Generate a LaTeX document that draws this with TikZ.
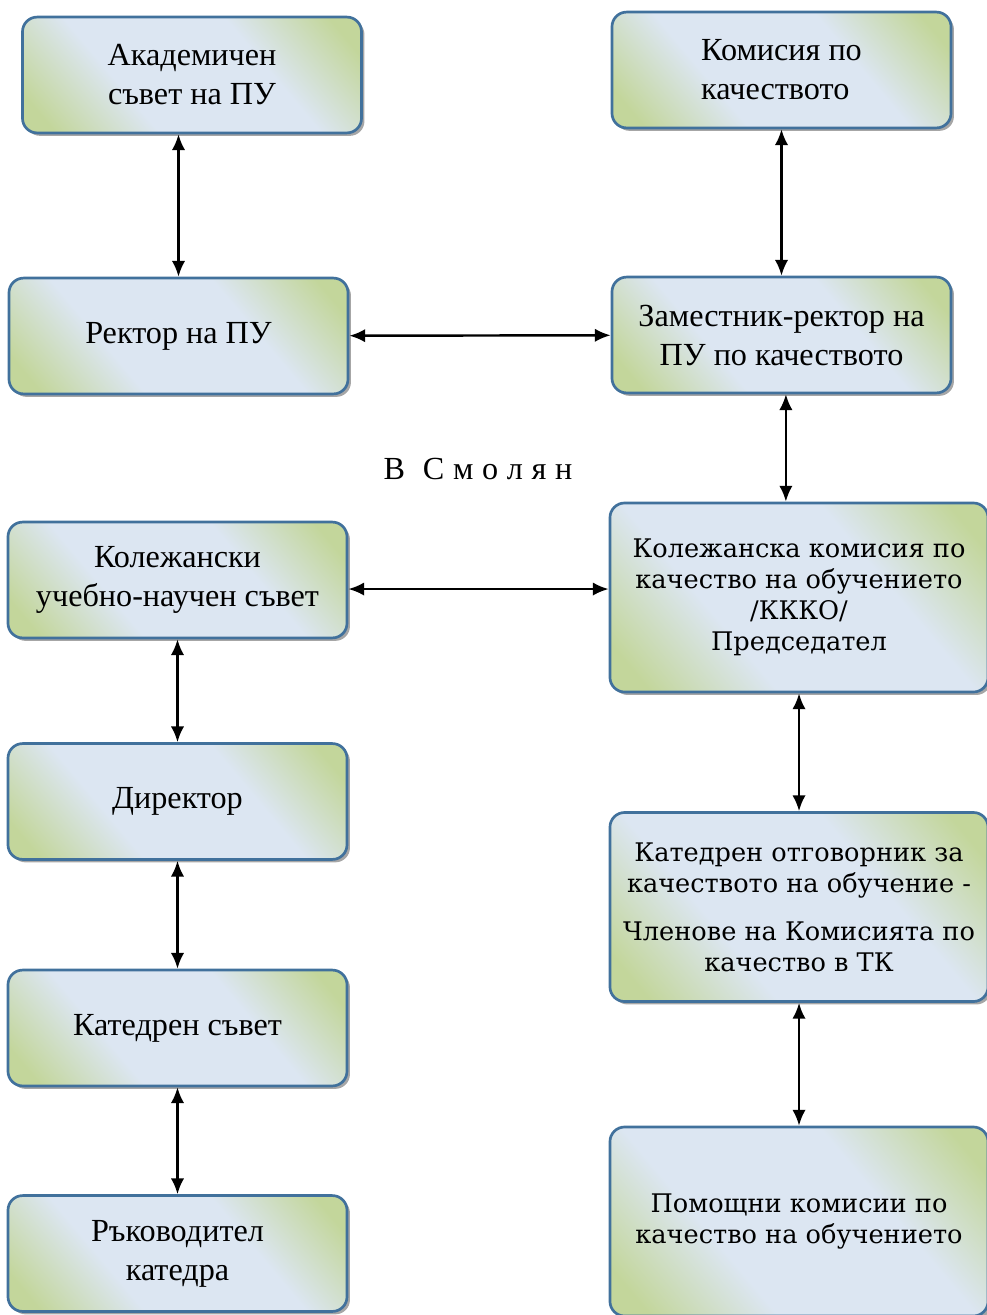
\documentclass[tikz,border=0pt]{standalone}
\usepackage{fontspec}
\setmainfont{Liberation Serif}
\newfontfamily\bookfont{DejaVu Serif}
\usetikzlibrary{arrows.meta,shadows}

\definecolor{boxblue}{HTML}{DCE6F2}
\definecolor{boxgreen}{HTML}{C3D69B}
\definecolor{boxline}{HTML}{41719C}

\pgfdeclarehorizontalshading{boxshade}{100bp}{color(0bp)=(boxgreen); color(20bp)=(boxgreen);
	color(37bp)=(boxblue); color(63bp)=(boxblue); color(80bp)=(boxgreen); color(100bp)=(boxgreen)}

\tikzset{
	unit/.style={draw=boxline, line width=1.1pt, rounded corners=6pt, align=center,
		shading=boxshade, shading angle=40,
		drop shadow={shadow xshift=1.2pt, shadow yshift=-1.2pt, fill=black, opacity=0.35},
		minimum width=139pt, minimum height=47.5pt, inner sep=2pt, font=\fontsize{13.2}{16}\selectfont},
	bigunit/.style={unit, minimum width=155pt, minimum height=77.5pt, font=\bookfont\fontsize{10.5}{12.7}\selectfont},
	link/.style={{Latex[length=6.5pt,width=5.5pt]}-{Latex[length=6.5pt,width=5.5pt]}, line width=1pt}
}

\begin{document}
\begin{tikzpicture}[x=0.41pt, y=-0.41pt]
	\useasboundingbox (0,0) rectangle (987,1315);

	\node[unit] (akad) at (192,75) {Академичен\\съвет на ПУ};
	\node[unit, align=left] (komisia) at (781.5,70) {Комисия по\\качеството};
	\node[unit] (rektor) at (178.5,336) {Ректор на ПУ};
	\node[unit] (zam) at (781.5,335) {Заместник-ректор на\\ПУ по качеството};

	\node (smolyan) at (478,469) {\fontsize{13.2}{16}\selectfont В\hspace{0.55em}С\hspace{0.27em}м\hspace{0.27em}о\hspace{0.27em}л\hspace{0.27em}я\hspace{0.27em}н};

	\node[unit] (kolsavet) at (177.5,580) {Колежански\\учебно-научен съвет};
	\node[bigunit] (kkko) at (799,597.5) {Колежанска комисия по\\качество на обучението\\/КККО/\\Председател};
	\node[unit] (direktor) at (177.5,801.5) {Директор};
	\node[bigunit] (otgov) at (799,907) {Катедрен отговорник за\\качеството на обучение -\\[7pt]Членове на Комисията по\\качество в ТК};
	\node[unit] (katsavet) at (177.5,1028) {Катедрен съвет};
	\node[bigunit] (pomoshtni) at (799,1221.5) {Помощни комисии по\\качество на обучението};
	\node[unit] (rakovoditel) at (177.5,1253.5) {Ръководител\\катедра};

	\draw[link] (akad.south -| rektor.north) -- (rektor.north);
	\draw[link] (komisia) -- (zam);
	\draw[link] (rektor) -- (zam);
	\draw[link] ([xshift=1.8pt]zam.south) -- ([xshift=1.8pt]zam.south |- kkko.north);
	\draw[link] ([yshift=-3.7pt]kolsavet.east) -- ([yshift=-3.7pt]kolsavet.east -| kkko.west);
	\draw[link] (kolsavet) -- (direktor);
	\draw[link] (kkko) -- (otgov);
	\draw[link] (direktor) -- (katsavet);
	\draw[link] (otgov) -- (pomoshtni);
	\draw[link] (katsavet) -- (rakovoditel);
\end{tikzpicture}
\end{document}
